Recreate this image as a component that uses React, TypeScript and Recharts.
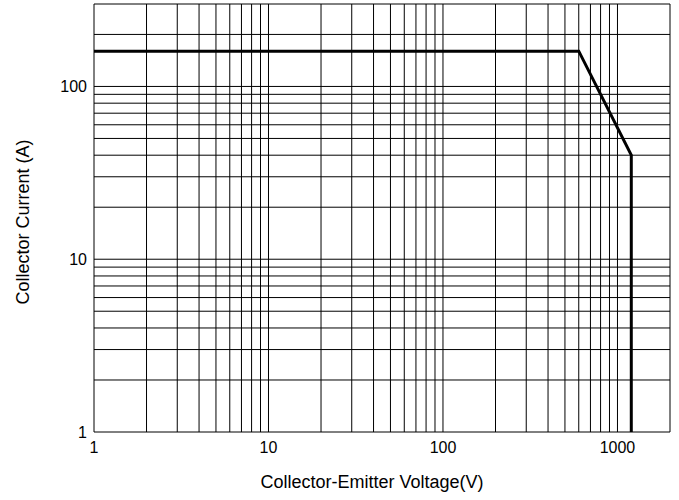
import { LineChart, Line, XAxis, YAxis, ReferenceLine } from "recharts";

// Safe operating area boundary, VCE (V) vs IC (A)
const soaVoltage = [1, 600, 1200, 1200];
const soaCurrent = [160, 160, 40, 1];

const xTicks = [1, 10, 100, 1000];
const yTicks = [1, 10, 100];

// log grid lines (1..9 per decade)
const xGrid = [
  1, 2, 3, 4, 5, 6, 7, 8, 9,
  10, 20, 30, 40, 50, 60, 70, 80, 90,
  100, 200, 300, 400, 500, 600, 700, 800, 900,
  1000, 2000,
];
const yGrid = [
  1, 2, 3, 4, 5, 6, 7, 8, 9,
  10, 20, 30, 40, 50, 60, 70, 80, 90,
  100, 200, 300,
];

const data = soaVoltage.map((v, i) => ({ v, i: soaCurrent[i] }));

const FONT = "'Liberation Sans', Arial, sans-serif";

export default function App() {
  return (
    <div style={{ position: "absolute", left: 0, top: 0, background: "#fff" }}>
      <LineChart
        width={679}
        height={500}
        data={data}
        margin={{ top: 4, right: 9, left: 0, bottom: 0 }}
        style={{ fontFamily: FONT }}
      >
        <XAxis
          dataKey="v"
          type="number"
          scale="log"
          domain={[1, 2000]}
          ticks={xTicks}
          allowDataOverflow
          axisLine={false}
          tickLine={false}
          tickSize={0}
          tickMargin={10}
          height={68}
          tick={{ fill: "#000", fontSize: 16 }}
          label={() => (
            <text
              x={372}
              y={488}
              textAnchor="middle"
              fill="#000"
              fontSize={18}
              fontFamily={FONT}
            >
              Collector-Emitter Voltage(V)
            </text>
          )}
        />
        <YAxis
          dataKey="i"
          type="number"
          scale="log"
          domain={[1, 300]}
          ticks={yTicks}
          allowDataOverflow
          axisLine={false}
          tickLine={false}
          tickSize={0}
          tickMargin={7}
          width={94}
          tick={{ fill: "#000", fontSize: 16 }}
          label={() => (
            <text
              x={23}
              y={222}
              transform="rotate(-90 23 222)"
              textAnchor="middle"
              dominantBaseline="central"
              fill="#000"
              fontSize={18}
              fontFamily={FONT}
            >
              Collector Current (A)
            </text>
          )}
        />
        {xGrid.map((x) => (
          <ReferenceLine key={`x${x}`} x={x} stroke="#000" strokeWidth={1} />
        ))}
        {yGrid.map((y) => (
          <ReferenceLine key={`y${y}`} y={y} stroke="#000" strokeWidth={1} />
        ))}
        <Line
          dataKey="i"
          type="linear"
          stroke="#000"
          strokeWidth={3}
          dot={false}
          isAnimationActive={false}
        />
      </LineChart>
    </div>
  );
}
